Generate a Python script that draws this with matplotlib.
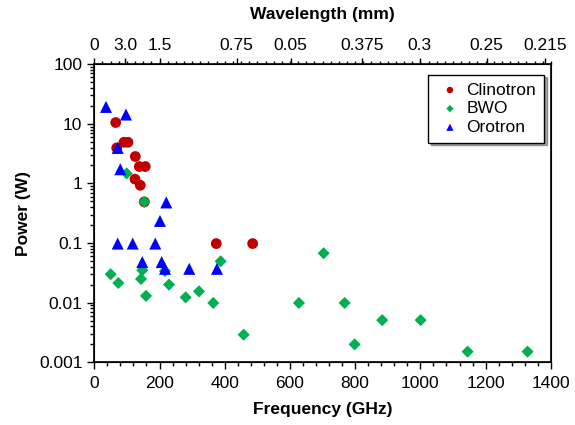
import matplotlib
matplotlib.use("Agg")
import matplotlib.pyplot as plt
from matplotlib.ticker import MultipleLocator, LogLocator, NullFormatter, FixedLocator

plt.rcParams['font.family'] = ['Liberation Sans', 'DejaVu Sans']

clin_f = [65.6, 91, 103.3, 68.7, 125.7, 138, 156.3, 124.8, 141, 153.3, 374, 485.6]
clin_p = [10.5, 4.9, 4.9, 3.94, 2.83, 1.92, 1.92, 1.18, 0.93, 0.49, 0.098, 0.098]

bwo_f = [99.3, 153.3, 50.3, 73.6, 147.1, 143.2, 158.5, 229, 216.7, 280.2, 321, 364.8,
         387.5, 458, 627.5, 703.2, 767.6, 798.3, 882.9, 1000.6, 1144.7, 1328.6]
bwo_p = [1.47, 0.49, 0.030, 0.0214, 0.035, 0.025, 0.0130, 0.0201, 0.034, 0.0123, 0.0155, 0.0099,
         0.0495, 0.0029, 0.0099, 0.0675, 0.0099, 0.0020, 0.0051, 0.0051, 0.00151, 0.00151]

oro_f = [35.9, 97.2, 71.7, 79.7, 220.7, 201.4, 71.7, 117.7, 187, 147.1, 206.6, 216.7, 291.2, 376.2]
oro_p = [19.2, 14.3, 3.94, 1.73, 0.48, 0.235, 0.098, 0.098, 0.098, 0.048, 0.048, 0.037, 0.037, 0.037]

wl_pos = [0, 94, 201, 437, 602, 821, 998, 1203, 1382]
wl_labels = ['0', '3.0', '1.5', '0.75', '0.05', '0.375', '0.3', '0.25', '0.215']

fig = plt.figure(figsize=(5.75, 4.25), dpi=100)
ax = fig.add_axes([0.164, 0.1475, 0.794, 0.7015])

ax.scatter(clin_f, clin_p, marker='o', s=60, color='#C00000', edgecolors='none', label='Clinotron', zorder=3)
ax.scatter(bwo_f, bwo_p, marker='D', s=38, color='#00B050', edgecolors='none', label='BWO', zorder=4)
ax.scatter(oro_f, oro_p, marker='^', s=75, color='#0000FF', edgecolors='none', label='Orotron', zorder=5)

ax.set_yscale('log')
ax.set_xlim(0, 1400)
ax.set_ylim(0.001, 100)
ax.xaxis.set_major_locator(MultipleLocator(200))
ax.xaxis.set_minor_locator(MultipleLocator(40))
ax.yaxis.set_minor_locator(LogLocator(base=10, subs=range(2, 10), numticks=20))
ax.yaxis.set_minor_formatter(NullFormatter())
ax.set_yticks([0.001, 0.01, 0.1, 1, 10, 100])
ax.set_yticklabels(['0.001', '0.01', '0.1', '1', '10', '100'])

ax.tick_params(axis='both', which='major', direction='out', length=5, width=1, labelsize=12.5, colors='black')
ax.tick_params(axis='both', which='minor', direction='out', length=3, width=1)
ax.tick_params(axis='x', which='major', pad=5)

for sp in ax.spines.values():
    sp.set_linewidth(1.2)

ax.set_xlabel('Frequency (GHz)', fontsize=12.5, fontweight='bold', labelpad=8)
ax.set_ylabel('Power (W)', fontsize=12.5, fontweight='bold', labelpad=6)

ax2 = ax.twiny()
ax2.set_xlim(ax.get_xlim())
ax2.xaxis.set_major_locator(FixedLocator(wl_pos))
ax2.set_xticklabels(wl_labels)
ax2.xaxis.set_minor_locator(MultipleLocator(25))
ax2.tick_params(axis='x', which='major', direction='out', length=4, width=1, labelsize=12.5, pad=4)
ax2.tick_params(axis='x', which='minor', direction='out', length=2, width=1)
ax2.set_xlabel('Wavelength (mm)', fontsize=12.5, fontweight='bold', labelpad=14)

leg = ax.legend(loc='upper right', bbox_to_anchor=(0.985, 0.965), frameon=True, fancybox=False,
                shadow=True, edgecolor='black', fontsize=12.5, markerscale=0.6,
                handletextpad=0.15, labelspacing=0.2, borderpad=0.45, handlelength=1.6,
                borderaxespad=0.0)
leg.get_frame().set_linewidth(1.0)

fig.savefig('out.png', dpi=100)
